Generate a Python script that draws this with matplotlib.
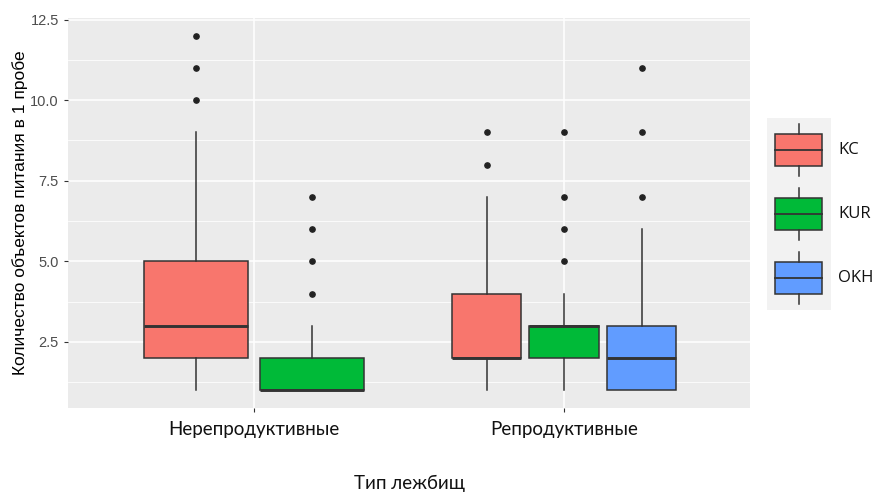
import matplotlib
matplotlib.use("Agg")
import matplotlib.pyplot as plt
import numpy as np
from matplotlib.patches import Rectangle

# ---------------- data ----------------
groups = ["Нерепродуктивные", "Репродуктивные"]
series = ["KC", "KUR", "OKH"]
colors = ["#F8766D", "#00BA38", "#619CFF"]

# five-number summaries: [whisker_low, q1, median, q3, whisker_high]; None = series absent
kc_stats = [[1, 2, 3, 5, 9], [1, 2, 2, 4, 7]]
kur_stats = [[1, 1, 1, 2, 3], [1, 2, 3, 3, 4]]
okh_stats = [None, [1, 1, 2, 3, 6]]

kc_outliers = [[10, 11, 12], [8, 9]]
kur_outliers = [[4, 5, 6, 7], [5, 6, 7, 9]]
okh_outliers = [[], [7, 9, 11]]

y_ticks = [2.5, 5.0, 7.5, 10.0, 12.5]
y_tick_labels = ["2.5", "5.0", "7.5", "10.0", "12.5"]

x_title = "Тип лежбищ"
y_title = "Количество объектов питания в 1 пробе"

all_stats = [kc_stats, kur_stats, okh_stats]
all_out = [kc_outliers, kur_outliers, okh_outliers]

# ---------------- figure ----------------
W, H = 874, 492
fig = plt.figure(figsize=(W / 100, H / 100), dpi=100)
ax = fig.add_axes([68 / W, 1 - 408 / H, (750 - 68) / W, (408 - 18) / H])
ax.set_facecolor("#EBEBEB")
for s in ax.spines.values():
    s.set_visible(False)

edge = "#333333"
for gi, g in enumerate(groups):
    present = [si for si in range(len(series)) if all_stats[si][gi] is not None]
    n = len(present)
    dodge = 0.75
    width = 0.9 * dodge / n
    offsets = (np.arange(n) - (n - 1) / 2) * dodge / n
    for k, si in enumerate(present):
        st = all_stats[si][gi]
        d = dict(whislo=st[0], q1=st[1], med=st[2], q3=st[3], whishi=st[4],
                 fliers=all_out[si][gi])
        ax.bxp([d], positions=[gi + 1 + offsets[k]], widths=width,
               patch_artist=True, showcaps=False, manage_ticks=False,
               boxprops=dict(facecolor=colors[si], edgecolor=edge, linewidth=1.1),
               whiskerprops=dict(color=edge, linewidth=1.1),
               medianprops=dict(color=edge, linewidth=2.1, solid_capstyle="butt"),
               flierprops=dict(marker="o", markersize=3.8, markerfacecolor="#222222",
                               markeredgecolor="#222222"),
               zorder=3)

ax.set_xlim(0.4, 2.6)
ax.set_ylim(0.45, 12.55)
ax.set_yticks(y_ticks)
ax.set_yticklabels(y_tick_labels, fontfamily="Liberation Sans", fontsize=10.5, color="#4D4D4D")
ax.set_yticks([1.25, 3.75, 6.25, 8.75, 11.25], minor=True)
ax.set_xticks([1, 2])
ax.set_xticklabels(groups, fontfamily="Lato", fontsize=13.5, color="#111111")
ax.tick_params(axis="both", which="major", length=3, width=0.8, color="#333333")
ax.tick_params(axis="y", which="minor", length=0)
ax.tick_params(axis="x", pad=6)
ax.grid(True, which="major", color="white", linewidth=1.1, zorder=0)
ax.grid(True, which="minor", axis="y", color="white", linewidth=0.55, zorder=0)
ax.set_axisbelow(True)

ax.set_ylabel(y_title, fontfamily="Liberation Sans", fontsize=12.5, color="black", labelpad=2)
fig.text(409 / W, 1 - 483 / H, x_title, fontfamily="Lato", fontsize=13.5,
         ha="center", va="center", color="#111111")

# ---------------- legend ----------------
lax = fig.add_axes([767 / W, 1 - 310 / H, 64 / W, 192 / H])
lax.set_facecolor("#F2F2F2")
lax.set_xlim(0, 1)
lax.set_ylim(0, len(series))
lax.set_xticks([])
lax.set_yticks([])
for s in lax.spines.values():
    s.set_visible(False)
for si, name in enumerate(series):
    base = len(series) - 1 - si
    lax.plot([0.5, 0.5], [base + 0.1, base + 0.25], color=edge, lw=1.1)
    lax.plot([0.5, 0.5], [base + 0.75, base + 0.9], color=edge, lw=1.1)
    lax.add_patch(Rectangle((0.13, base + 0.25), 0.73, 0.5, facecolor=colors[si],
                            edgecolor=edge, lw=1.1))
    lax.plot([0.13, 0.86], [base + 0.5, base + 0.5], color=edge, lw=1.3)
    lax.text(1.11, base + 0.5, name, transform=lax.transData, fontfamily="Open Sans",
             fontsize=12, va="center", ha="left", color="#111111", clip_on=False)

fig.savefig("out.png", dpi=100, facecolor="white")
